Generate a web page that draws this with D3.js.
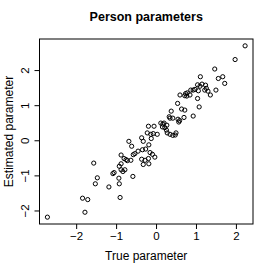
<!DOCTYPE html>
<html>
<head>
<meta charset="utf-8">
<script src="https://cdn.jsdelivr.net/npm/d3@7"></script>
<style>
  body { margin: 0; background: #fff; }
  text { font-family: "Liberation Sans", Arial, Helvetica, sans-serif; fill: #000; }
</style>
</head>
<body>
<div id="chart"></div>
<script>
var svgWidth = 273;
var svgHeight = 273;

var margin = { top: 39, right: 20, bottom: 49, left: 39.5 };
var width = svgWidth - margin.left - margin.right;
var height = svgHeight - margin.top - margin.bottom;

// true vs estimated person parameters
var trueParam = [
  -2.72, -1.78, -1.84, -1.71, -1.52, -1.47, -1.56, -1.18, -0.90, -0.92,
  -0.93, -1.08, -1.05, -0.875, -0.83, -0.78, -0.92, -0.875, -0.875, -0.80,
  -0.75, -0.72, -0.68, -0.58, -0.63, -0.61, -0.57, -0.53, -0.45, -0.34,
  -0.26, -0.36, -0.32, -0.22, -0.13, -0.07, -0.19, -0.05, -0.12, -0.18,
  0.03, -0.15, -0.09, -0.03, -0.36, -0.275, -0.19, -0.32, -0.18, 0.12,
  0.17, 0.20, 0.27, 0.16, 0.22, 0.26, 0.28, 0.35, 0.42, 0.48,
  0.50, 0.57, 0.59, 0.55, 0.33, 0.35, 0.42, 2.23, 1.98, 1.47,
  1.11, 1.56, 1.67, 1.72, 1.50, 1.36, 1.04, 1.10, 1.15, 1.24,
  1.26, 1.22, 1.30, 0.975, 1.06, 0.87, 0.93, 0.74, 0.78, 0.85,
  0.77, 0.60, 0.72, 1.04, 1.08, 0.93, 0.54, 0.64, 0.72, 0.38,
  0.70
];
var estParam = [
  -2.19, -2.05, -1.65, -1.69, -1.24, -1.07, -0.65, -1.33, -1.63, -1.24,
  -1.08, -0.95, -0.92, -0.84, -0.89, -0.84, -0.74, -0.67, -0.42, -0.52,
  -0.55, -0.58, -0.03, -1.03, -0.57, -0.17, -0.41, -0.38, -0.31, -0.27,
  -0.25, 0.07, -0.03, 0.21, 0.17, 0.19, 0.40, 0.40, 0.05, -0.13,
  0.17, -0.35, -0.40, -0.48, -0.54, -0.57, -0.52, -0.69, -0.67, 0.49,
  0.46, 0.49, 0.43, 0.38, 0.36, 0.29, 0.21, 0.17, 0.14, 0.15,
  0.21, 0.52, 0.56, 0.60, 0.67, 0.63, 0.63, 2.69, 2.30, 2.03,
  1.81, 1.76, 1.81, 1.62, 1.43, 1.29, 1.58, 1.54, 1.60, 1.57,
  1.48, 1.43, 1.40, 1.45, 1.41, 1.43, 1.43, 1.33, 1.35, 1.29,
  1.26, 1.29, 1.27, 1.19, 0.95, 0.69, 1.05, 0.89, 0.86, 0.83,
  0.65
];
var tickValues = [-2, -1, 0, 1, 2];

var points = trueParam.map(function(d, i) {
  return { x: d, y: estParam[i] };
});

// R style 4% padding on the ranges
function padded(ext) {
  var p = (ext[1] - ext[0]) * 0.04;
  return [ext[0] - p, ext[1] + p];
}

var svg = d3.select("#chart")
  .append("svg")
  .attr("width", svgWidth)
  .attr("height", svgHeight);

var chartGroup = svg.append("g")
  .attr("transform", `translate(${margin.left}, ${margin.top})`);

var xScale = d3.scaleLinear()
  .domain(padded(d3.extent(trueParam)))
  .range([0, width]);

var yScale = d3.scaleLinear()
  .domain(padded(d3.extent(estParam)))
  .range([height, 0]);

var bottomAxis = d3.axisBottom(xScale)
  .tickValues(tickValues)
  .tickFormat(d3.format("d"))
  .tickSizeOuter(0)
  .tickSize(5)
  .tickPadding(3);

var leftAxis = d3.axisLeft(yScale)
  .tickValues(tickValues)
  .tickFormat(d3.format("d"))
  .tickSizeOuter(0)
  .tickSize(5)
  .tickPadding(3);

var xAxisG = chartGroup.append("g")
  .attr("transform", `translate(0, ${height})`)
  .call(bottomAxis);
xAxisG.select(".domain").remove();
xAxisG.selectAll("text")
  .style("font-size", "11.5px")
  .style("font-family", "Liberation Sans, Arial, sans-serif");

var yAxisG = chartGroup.append("g")
  .call(leftAxis);
yAxisG.select(".domain").remove();
yAxisG.selectAll("text")
  .style("font-size", "11.5px")
  .style("font-family", "Liberation Sans, Arial, sans-serif")
  .attr("text-anchor", "middle")
  .attr("dy", "0")
  .attr("x", 0)
  .attr("transform", "translate(-11, 0) rotate(-90)");

chartGroup.append("rect")
  .attr("width", width)
  .attr("height", height)
  .attr("fill", "none")
  .attr("stroke", "#000")
  .attr("stroke-width", 1);

chartGroup.selectAll("circle")
  .data(points)
  .enter()
  .append("circle")
  .attr("cx", d => xScale(d.x))
  .attr("cy", d => yScale(d.y))
  .attr("r", 2.1)
  .attr("fill", "none")
  .attr("stroke", "#000")
  .attr("stroke-width", 1);

svg.append("text")
  .attr("x", margin.left + width / 2)
  .attr("y", 21)
  .attr("text-anchor", "middle")
  .style("font-size", "12.5px")
  .style("font-weight", "bold")
  .text("Person parameters");

svg.append("text")
  .attr("x", margin.left + width / 2)
  .attr("y", 260)
  .attr("text-anchor", "middle")
  .style("font-size", "12px")
  .text("True parameter");

svg.append("text")
  .attr("transform", `translate(13, ${margin.top + height / 2}) rotate(-90)`)
  .attr("text-anchor", "middle")
  .style("font-size", "12px")
  .text("Estimated parameter");
</script>
</body>
</html>
